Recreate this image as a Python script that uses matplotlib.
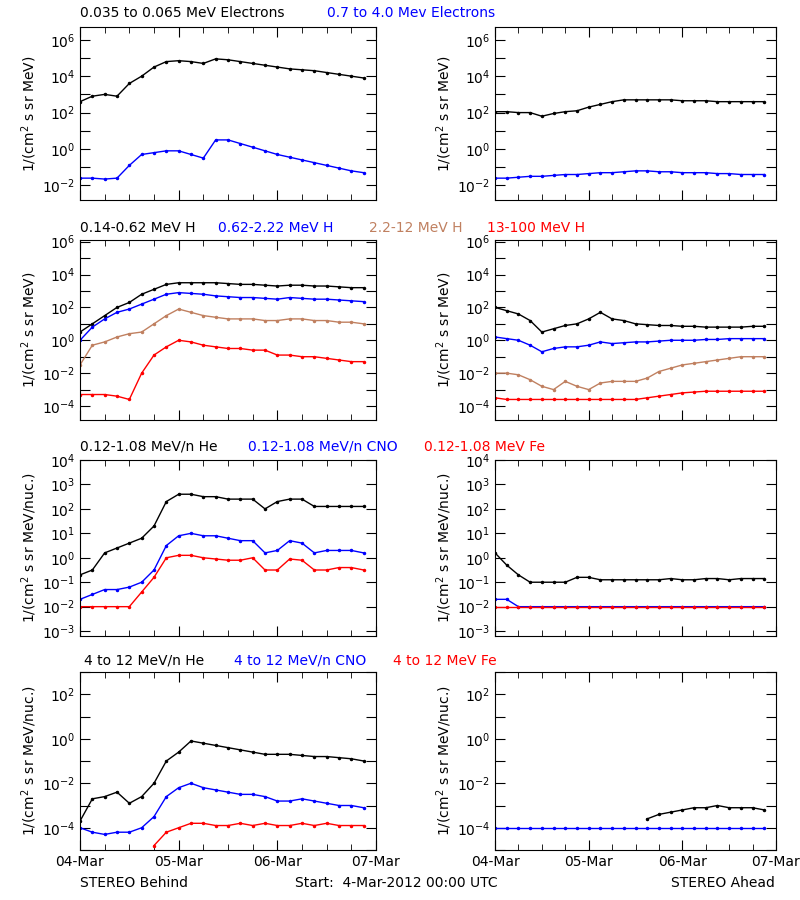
import numpy as np
import matplotlib
matplotlib.use("Agg")
import matplotlib.pyplot as plt
from matplotlib.ticker import FixedLocator, FuncFormatter, MultipleLocator

plt.rcParams['font.family'] = ['DejaVu Sans']
plt.rcParams['font.size'] = 9

TAN = '#c08060'
hours = [0, 3, 6, 9, 12, 15, 18, 21, 24, 27, 30, 33, 36, 39, 42, 45, 48, 51, 54, 57, 60, 63, 66, 69]

# log10 of flux values
# Row 1: electrons
e_lo_behind = [2.6, 2.9, 3.0, 2.9, 3.6, 4.0, 4.5, 4.8, 4.85, 4.8, 4.7, 4.95, 4.9, 4.8, 4.7, 4.6, 4.5, 4.4, 4.35, 4.3, 4.2, 4.1, 4.0, 3.9]
e_hi_behind = [-1.6, -1.6, -1.65, -1.6, -0.9, -0.3, -0.2, -0.1, -0.1, -0.3, -0.5, 0.5, 0.5, 0.3, 0.1, -0.1, -0.3, -0.45, -0.6, -0.75, -0.9, -1.05, -1.2, -1.3]
e_lo_ahead = [2.05, 2.05, 2.0, 2.0, 1.8, 1.95, 2.05, 2.1, 2.3, 2.45, 2.6, 2.7, 2.7, 2.7, 2.7, 2.7, 2.65, 2.65, 2.65, 2.6, 2.6, 2.6, 2.6, 2.6]
e_hi_ahead = [-1.6, -1.6, -1.55, -1.5, -1.5, -1.45, -1.4, -1.4, -1.35, -1.3, -1.3, -1.25, -1.2, -1.2, -1.25, -1.25, -1.3, -1.3, -1.3, -1.35, -1.35, -1.4, -1.4, -1.4]
# Row 2: protons
h1_behind = [0.5, 1.0, 1.5, 2.0, 2.3, 2.8, 3.1, 3.4, 3.5, 3.5, 3.5, 3.5, 3.45, 3.4, 3.4, 3.35, 3.3, 3.35, 3.35, 3.3, 3.3, 3.25, 3.2, 3.2]
h2_behind = [0.0, 0.8, 1.3, 1.7, 1.9, 2.2, 2.5, 2.8, 2.9, 2.85, 2.8, 2.7, 2.65, 2.6, 2.6, 2.55, 2.5, 2.6, 2.55, 2.5, 2.5, 2.45, 2.4, 2.35]
h3_behind = [-1.5, -0.3, -0.1, 0.2, 0.4, 0.5, 1.0, 1.5, 1.9, 1.7, 1.5, 1.4, 1.3, 1.3, 1.3, 1.2, 1.2, 1.3, 1.3, 1.2, 1.2, 1.1, 1.1, 1.0]
h4_behind = [-3.3, -3.3, -3.3, -3.4, -3.6, -2.0, -0.9, -0.4, 0.0, -0.1, -0.3, -0.4, -0.5, -0.5, -0.6, -0.6, -0.9, -0.9, -1.0, -1.0, -1.1, -1.2, -1.3, -1.3]
h1_ahead = [2.0, 1.8, 1.6, 1.2, 0.5, 0.7, 0.9, 1.0, 1.3, 1.7, 1.3, 1.2, 1.0, 0.95, 0.9, 0.9, 0.85, 0.85, 0.8, 0.8, 0.8, 0.8, 0.85, 0.85]
h2_ahead = [0.2, 0.1, 0.0, -0.3, -0.7, -0.5, -0.4, -0.4, -0.3, -0.1, -0.2, -0.15, -0.1, -0.1, -0.05, 0.0, 0.0, 0.0, 0.05, 0.05, 0.1, 0.1, 0.1, 0.1]
h3_ahead = [-2.0, -2.0, -2.1, -2.4, -2.8, -3.0, -2.5, -2.8, -3.0, -2.6, -2.5, -2.5, -2.5, -2.3, -1.9, -1.7, -1.5, -1.4, -1.3, -1.2, -1.1, -1.0, -1.0, -1.0]
h4_ahead = [-3.5, -3.6, -3.6, -3.6, -3.6, -3.6, -3.6, -3.6, -3.6, -3.6, -3.6, -3.6, -3.6, -3.5, -3.4, -3.3, -3.2, -3.15, -3.1, -3.1, -3.1, -3.1, -3.1, -3.1]
# Row 3: low-energy ions
he1_behind = [-0.7, -0.5, 0.2, 0.4, 0.6, 0.8, 1.3, 2.3, 2.6, 2.6, 2.5, 2.5, 2.4, 2.4, 2.4, 2.0, 2.3, 2.4, 2.4, 2.1, 2.1, 2.1, 2.1, 2.1]
cno1_behind = [-1.7, -1.5, -1.3, -1.3, -1.2, -1.0, -0.5, 0.5, 0.9, 1.0, 0.9, 0.9, 0.8, 0.7, 0.7, 0.2, 0.3, 0.7, 0.6, 0.2, 0.3, 0.3, 0.3, 0.2]
fe1_behind = [-2.0, -2.0, -2.0, -2.0, -2.0, -1.4, -0.8, 0.0, 0.1, 0.1, 0.0, -0.05, -0.1, -0.1, 0.0, -0.5, -0.5, -0.05, -0.1, -0.5, -0.5, -0.4, -0.4, -0.5]
he1_ahead = [0.2, -0.3, -0.7, -1.0, -1.0, -1.0, -1.0, -0.8, -0.8, -0.9, -0.9, -0.9, -0.9, -0.9, -0.9, -0.85, -0.9, -0.9, -0.85, -0.85, -0.9, -0.85, -0.85, -0.85]
cno1_ahead = [-1.7, -1.7, -2.0, -2.0, -2.0, -2.0, -2.0, -2.0, -2.0, -2.0, -2.0, -2.0, -2.0, -2.0, -2.0, -2.0, -2.0, -2.0, -2.0, -2.0, -2.0, -2.0, -2.0, -2.0]
fe1_ahead = [-2.0, -2.0, -2.0, -2.0, -2.0, -2.0, -2.0, -2.0, -2.0, -2.0, -2.0, -2.0, -2.0, -2.0, -2.0, -2.0, -2.0, -2.0, -2.0, -2.0, -2.0, -2.0, -2.0, -2.0]
# Row 4: high-energy ions
he2_behind = [-3.7, -2.7, -2.6, -2.4, -2.9, -2.6, -2.0, -1.0, -0.6, -0.1, -0.2, -0.3, -0.4, -0.5, -0.6, -0.7, -0.7, -0.7, -0.75, -0.8, -0.8, -0.85, -0.9, -1.0]
cno2_behind = [-4.0, -4.2, -4.3, -4.2, -4.2, -4.0, -3.5, -2.6, -2.2, -2.0, -2.2, -2.3, -2.4, -2.5, -2.5, -2.6, -2.8, -2.8, -2.7, -2.8, -2.9, -3.0, -3.0, -3.1]
fe2_hours = [18, 21, 24, 27, 30, 33, 36, 39, 42, 45, 48, 51, 54, 57, 60, 63, 66, 69]
fe2_behind = [-4.8, -4.2, -4.0, -3.8, -3.8, -3.9, -3.9, -3.8, -3.9, -3.8, -3.9, -3.9, -3.8, -3.9, -3.8, -3.9, -3.9, -3.9]
he2_hours = [39, 42, 45, 48, 51, 54, 57, 60, 63, 66, 69]
he2_ahead = [-3.6, -3.4, -3.3, -3.2, -3.1, -3.1, -3.0, -3.1, -3.1, -3.1, -3.2]
cno2_ahead = [-4.0, -4.0, -4.0, -4.0, -4.0, -4.0, -4.0, -4.0, -4.0, -4.0, -4.0, -4.0, -4.0, -4.0, -4.0, -4.0, -4.0, -4.0, -4.0, -4.0, -4.0, -4.0, -4.0, -4.0]

day_labels = ['04-Mar', '05-Mar', '06-Mar', '07-Mar']

W, H = 800, 900
fig = plt.figure(figsize=(8, 9), dpi=100)

rows = [(27, 200), (240, 420), (460, 636), (672, 850)]
cols = [(80, 376), (495, 776)]
ylims = [(-2.8, 6.7), (-4.85, 6.1), (-3.2, 4.0), (-5.0, 3.0)]
label_step = [2, 2, 1, 2]
ylabels = ['1/(cm$^2$ s sr MeV)', '1/(cm$^2$ s sr MeV)',
           '1/(cm$^2$ s sr MeV/nuc.)', '1/(cm$^2$ s sr MeV/nuc.)']

def mk_ax(r, c):
    (t, b), (l, rr) = rows[r], cols[c]
    ax = fig.add_axes([l / W, 1 - b / H, (rr - l) / W, (b - t) / H])
    lo, hi = ylims[r]
    ax.set_yscale('log')
    ax.set_ylim(10 ** lo, 10 ** hi)
    ax.set_xlim(0, 72)
    decs = [10.0 ** k for k in range(int(np.ceil(lo)), int(np.floor(hi)) + 1)]
    step = label_step[r]
    ax.yaxis.set_major_locator(FixedLocator(decs))
    ax.yaxis.set_minor_locator(FixedLocator([]))
    ax.yaxis.set_major_formatter(FuncFormatter(
        lambda v, p, s=step: ('$10^{%d}$' % round(np.log10(v))) if round(np.log10(v)) % s == 0 else ''))
    ax.xaxis.set_major_locator(FixedLocator([0, 24, 48, 72]))
    ax.xaxis.set_minor_locator(MultipleLocator(6))
    ax.tick_params(which='both', direction='in', top=True, right=True, labelsize=10)
    ax.tick_params(which='major', length=7)
    ax.tick_params(which='minor', length=4)
    if r == 3:
        ax.set_xticklabels(day_labels)
    else:
        ax.set_xticklabels([])
    ax.set_ylabel(ylabels[r], fontsize=10, labelpad=2)
    return ax

def plot(ax, x, logy, color):
    ax.plot(x, 10 ** np.array(logy), color=color, lw=1.0, marker='.', ms=3)

series = [
    [[(hours, e_lo_behind, 'black'), (hours, e_hi_behind, 'blue')],
     [(hours, e_lo_ahead, 'black'), (hours, e_hi_ahead, 'blue')]],
    [[(hours, h1_behind, 'black'), (hours, h2_behind, 'blue'), (hours, h3_behind, TAN), (hours, h4_behind, 'red')],
     [(hours, h1_ahead, 'black'), (hours, h2_ahead, 'blue'), (hours, h3_ahead, TAN), (hours, h4_ahead, 'red')]],
    [[(hours, he1_behind, 'black'), (hours, cno1_behind, 'blue'), (hours, fe1_behind, 'red')],
     [(hours, he1_ahead, 'black'), (hours, cno1_ahead, 'blue'), (hours, fe1_ahead, 'red')]],
    [[(hours, he2_behind, 'black'), (hours, cno2_behind, 'blue'), (fe2_hours, fe2_behind, 'red')],
     [(he2_hours, he2_ahead, 'black'), (hours, cno2_ahead, 'blue')]],
]
for r in range(4):
    for c in range(2):
        ax = mk_ax(r, c)
        for x, y, col in series[r][c]:
            plot(ax, x, y, col)

titles = [
    (13, [(80, '0.035 to 0.065 MeV Electrons', 'black'), (327, '0.7 to 4.0 Mev Electrons', 'blue')]),
    (228, [(80, '0.14-0.62 MeV H', 'black'), (218, '0.62-2.22 MeV H', 'blue'),
           (369, '2.2-12 MeV H', TAN), (487, '13-100 MeV H', 'red')]),
    (447, [(80, '0.12-1.08 MeV/n He', 'black'), (248, '0.12-1.08 MeV/n CNO', 'blue'),
           (424, '0.12-1.08 MeV Fe', 'red')]),
    (661, [(84, '4 to 12 MeV/n He', 'black'), (234, '4 to 12 MeV/n CNO', 'blue'),
           (393, '4 to 12 MeV Fe', 'red')]),
]
for y, parts in titles:
    for x, s, col in parts:
        fig.text(x / W, 1 - y / H, s, color=col, fontsize=10, va='center', ha='left')

fig.text(80 / W, 1 - 883 / H, 'STEREO Behind', fontsize=10, va='center')
fig.text(295 / W, 1 - 883 / H, 'Start:  4-Mar-2012 00:00 UTC', fontsize=10, va='center')
fig.text(775 / W, 1 - 883 / H, 'STEREO Ahead', fontsize=10, va='center', ha='right')

fig.savefig('out.png', dpi=100, facecolor='white')
